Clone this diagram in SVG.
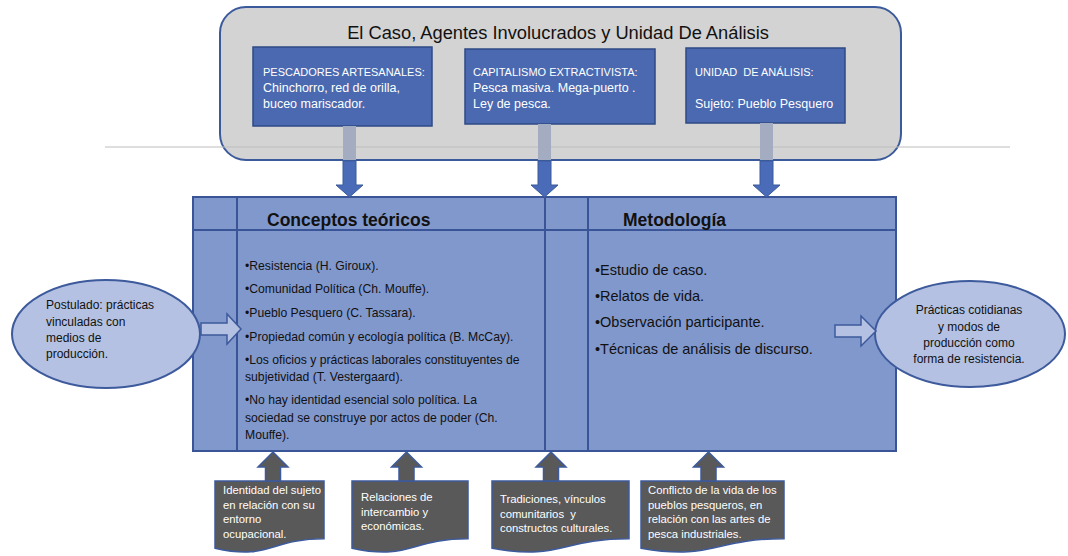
<svg xmlns="http://www.w3.org/2000/svg" width="1068" height="556" viewBox="0 0 1068 556">
<style>
text{font-family:"Liberation Sans",Arial,sans-serif;}
.w{fill:#ffffff;}
.k{fill:#111111;}
.box{fill:#4a69b0;stroke:#2f4a85;stroke-width:1.5;}
.tbl{fill:#8198cd;stroke:#3a5597;stroke-width:2;}
.ln{stroke:#3a5597;stroke-width:2;fill:none;}
.ell{fill:#b4c1e2;stroke:#3d5a9c;stroke-width:2;}
.barr{fill:#b4c1e2;stroke:#3d5a9c;stroke-width:1.5;}
.bar{fill:#a3acc1;}
.darr{fill:#4a6bb8;stroke:#3a5a9a;stroke-width:1;}
.doc{fill:#595959;stroke:#3d5a9c;stroke-width:1.5;}
.uarr{fill:#595959;stroke:#3d5a9c;stroke-width:1.5;}
.hd{font-weight:bold;font-size:17.5px;fill:#111;}
.b1{font-size:12.2px;}
.b2{font-size:14.5px;}
.bt{font-size:12.5px;}
.bc{font-size:11px;}
.ct{font-size:11.3px;}
.et{font-size:12px;}
</style>

<g id="container">
  <rect x="220" y="7" width="681" height="153" rx="26" ry="26" fill="#d3d3d3" stroke="#3b5a9b" stroke-width="2"/>
  <text x="558" y="39" text-anchor="middle" font-size="18.3" fill="#111">El Caso, Agentes Involucrados y Unidad De Análisis</text>
</g>
<line x1="105" y1="147" x2="1010" y2="147" stroke="#bdbdbd" stroke-width="1"/>

<g id="box-pescadores">
  <rect class="box" x="253" y="47" width="179" height="79"/>
  <text class="w bc" x="263" y="76">PESCADORES ARTESANALES:</text>
  <text class="w bt" x="263" y="92">Chinchorro, red de orilla,</text>
  <text class="w bt" x="263" y="108">buceo mariscador.</text>
</g>
<g id="box-capitalismo">
  <rect class="box" x="465" y="49" width="190" height="75"/>
  <text class="w bc" x="473" y="76">CAPITALISMO EXTRACTIVISTA:</text>
  <text class="w bt" x="473" y="92">Pesca masiva. Mega-puerto .</text>
  <text class="w bt" x="473" y="108">Ley de pesca.</text>
</g>
<g id="box-unidad">
  <rect class="box" x="686" y="48" width="159" height="75"/>
  <text class="w bc" x="695" y="76" xml:space="preserve">UNIDAD  DE ANÁLISIS:</text>
  <text class="w bt" x="695" y="108">Sujeto: Pueblo Pesquero</text>
</g>

<g id="conceptos">
  <rect class="tbl" x="193" y="197" width="352" height="254"/>
  <line class="ln" x1="237" y1="197" x2="237" y2="451"/>
  <line class="ln" x1="193" y1="230" x2="545" y2="230"/>
  <text class="hd" x="267" y="226">Conceptos teóricos</text>
  <g class="k b1">
    <text x="245" y="270">•Resistencia (H. Giroux).</text>
    <text x="245" y="293">•Comunidad Política (Ch. Mouffe).</text>
    <text x="245" y="317">•Pueblo Pesquero (C. Tassara).</text>
    <text x="245" y="341">•Propiedad común y ecología política (B. McCay).</text>
    <text x="245" y="364">•Los oficios y prácticas laborales constituyentes de</text>
    <text x="245" y="381">subjetividad (T. Vestergaard).</text>
    <text x="245" y="404">•No hay identidad esencial solo política. La</text>
    <text x="245" y="422">sociedad se construye por actos de poder (Ch.</text>
    <text x="245" y="439">Mouffe).</text>
  </g>
</g>

<g id="metodologia">
  <rect class="tbl" x="545" y="197" width="351" height="254"/>
  <line class="ln" x1="588" y1="197" x2="588" y2="451"/>
  <line class="ln" x1="545" y1="230" x2="896" y2="230"/>
  <text class="hd" x="623" y="226">Metodología</text>
  <g class="k b2">
    <text x="595" y="275">•Estudio de caso.</text>
    <text x="595" y="301">•Relatos de vida.</text>
    <text x="595" y="327">•Observación participante.</text>
    <text x="595" y="354">•Técnicas de análisis de discurso.</text>
  </g>
</g>

<g id="postulado">
  <ellipse class="ell" cx="106" cy="334" rx="94" ry="54"/>
  <g class="k et">
    <text x="46" y="309">Postulado: prácticas</text>
    <text x="46" y="326">vinculadas con</text>
    <text x="46" y="342">medios de</text>
    <text x="46" y="358">producción.</text>
  </g>
</g>

<g id="practicas">
  <ellipse class="ell" cx="970" cy="334" rx="95" ry="53"/>
  <g class="k et" text-anchor="middle">
    <text x="969" y="314">Prácticas cotidianas</text>
    <text x="969" y="331">y modos de</text>
    <text x="969" y="347">producción como</text>
    <text x="969" y="363">forma de resistencia.</text>
  </g>
</g>

<g id="callout-identidad">
  <path class="doc" d="M215,481 H324 V538.7 C269.5,538.7 269.5,560.7 215,548.2 Z"/>
  <g class="w ct">
    <text x="223" y="494">Identidad del sujeto</text>
    <text x="223" y="508.5">en relación con su</text>
    <text x="223" y="523">entorno</text>
    <text x="223" y="537.5">ocupacional.</text>
  </g>
</g>
<g id="callout-relaciones">
  <path class="doc" d="M352,481 H468 V538.7 C410,538.7 410,560.7 352,548.2 Z"/>
  <g class="w ct">
    <text x="361" y="501">Relaciones de</text>
    <text x="361" y="515.5">intercambio y</text>
    <text x="361" y="530">económicas.</text>
  </g>
</g>
<g id="callout-tradiciones">
  <path class="doc" d="M492,481 H629 V538.7 C560.5,538.7 560.5,560.7 492,548.2 Z"/>
  <g class="w ct">
    <text x="500" y="503">Tradiciones, vínculos</text>
    <text x="500" y="517.5" xml:space="preserve">comunitarios  y</text>
    <text x="500" y="532">constructos culturales.</text>
  </g>
</g>
<g id="callout-conflicto">
  <path class="doc" d="M641,481 H784 V538.7 C712.5,538.7 712.5,560.7 641,548.2 Z"/>
  <g class="w ct">
    <text x="648" y="494">Conflicto de la vida de los</text>
    <text x="648" y="508.5">pueblos pesqueros, en</text>
    <text x="648" y="523">relación con las artes de</text>
    <text x="648" y="537.5">pesca industriales.</text>
  </g>
</g>

<g id="connectors">
  <rect class="bar" x="343" y="126" width="13" height="34"/>
  <rect class="bar" x="538" y="124" width="13" height="36"/>
  <rect class="bar" x="760" y="123" width="13" height="37"/>
  <path class="darr" d="M343,161 H356 V185 H363 L349.5,197 L336,185 H343 Z"/>
  <path class="darr" d="M538,161 H551 V185 H558 L544.5,197 L531,185 H538 Z"/>
  <path class="darr" d="M760,161 H773 V185 H780 L766.5,197 L753,185 H760 Z"/>
  <path class="barr" d="M201,323 H227 V314 L241,329 L227,344 V335 H201 Z"/>
  <path class="barr" d="M835,325 H861 V316 L876,331 L861,346 V337 H835 Z"/>
  <path class="uarr" d="M265.5,481 V467 H258 L273,452 L288,467 H280.5 V481 Z"/>
  <path class="uarr" d="M399,481 V467 H391.5 L406.5,452 L421.5,467 H414 V481 Z"/>
  <path class="uarr" d="M543.5,481 V467 H536 L551,452 L566,467 H558.5 V481 Z"/>
  <path class="uarr" d="M701,481 V467 H693.5 L708.5,452 L723.5,467 H716 V481 Z"/>
</g>
</svg>
